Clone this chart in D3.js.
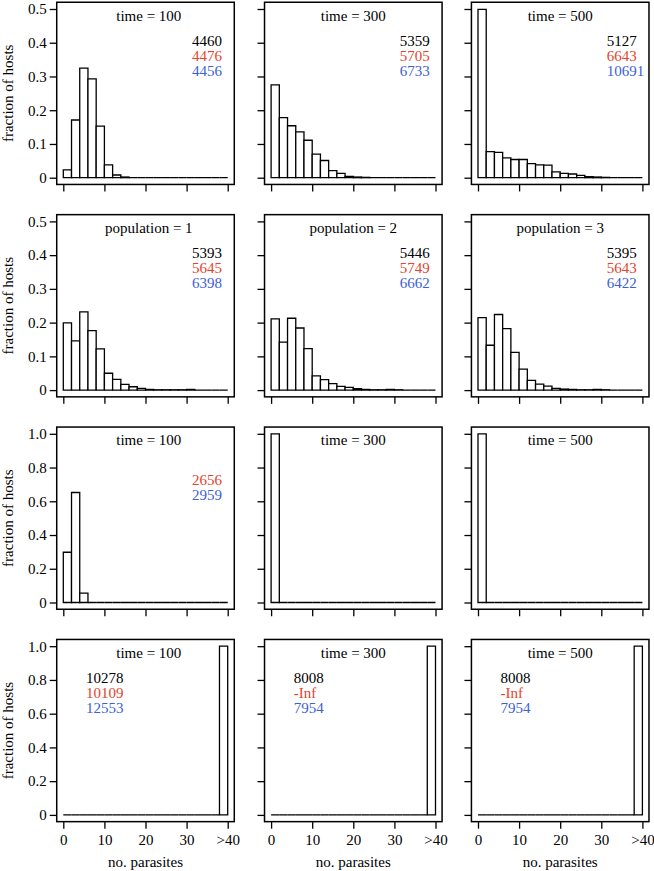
<!DOCTYPE html>
<html>
<head>
<meta charset="utf-8">
<script src="https://cdn.jsdelivr.net/npm/d3@7"></script>
<style>
  body { margin: 0; background: #fff; }
  svg text { font-family: "Liberation Serif", "Times New Roman", serif; font-size: 15px; }
</style>
</head>
<body>
<svg id="chart"></svg>
<script>
// Data: fraction of hosts per bin of 2 parasites (0-2, 2-4, ... 38-40/>40)
const binEdges = d3.range(0, 41, 2);
const xTicks = [0, 10, 20, 30, 40];
const xTickLabels = ['0', '10', '20', '30', '>40'];
const yTicksSmall = [0, 0.1, 0.2, 0.3, 0.4, 0.5];
const yTickLabelsSmall = ['0', '0.1', '0.2', '0.3', '0.4', '0.5'];
const yTicksLarge = [0, 0.2, 0.4, 0.6, 0.8, 1.0];
const yTickLabelsLarge = ['0', '0.2', '0.4', '0.6', '0.8', '1.0'];

const rowMax = [0.5, 0.5, 1.0, 1.0];

const titles = [
    ['time = 100', 'time = 300', 'time = 500'],
    ['population = 1', 'population = 2', 'population = 3'],
    ['time = 100', 'time = 300', 'time = 500'],
    ['time = 100', 'time = 300', 'time = 500']
];

const zeros = n => new Array(n).fill(0);

const fractions = [
    [
        [0.023, 0.171, 0.325, 0.293, 0.153, 0.038, 0.008, 0.002, 0, 0, 0, 0, 0, 0, 0, 0, 0, 0, 0, 0],
        [0.275, 0.178, 0.154, 0.136, 0.111, 0.070, 0.051, 0.021, 0.013, 0.004, 0.002, 0.001, 0, 0, 0, 0, 0, 0, 0, 0],
        [0.499, 0.077, 0.075, 0.059, 0.054, 0.054, 0.042, 0.038, 0.037, 0.017, 0.013, 0.011, 0.007, 0.003, 0.002, 0.001, 0, 0, 0, 0]
    ],
    [
        [0.199, 0.146, 0.232, 0.176, 0.122, 0.050, 0.032, 0.017, 0.010, 0.005, 0.002, 0.001, 0.001, 0.001, 0.001, 0.002, 0, 0, 0, 0],
        [0.211, 0.142, 0.213, 0.184, 0.123, 0.042, 0.031, 0.019, 0.011, 0.008, 0.004, 0.002, 0.001, 0.001, 0.002, 0.001, 0, 0, 0, 0],
        [0.215, 0.133, 0.224, 0.182, 0.112, 0.062, 0.029, 0.018, 0.012, 0.005, 0.003, 0.002, 0.001, 0.001, 0.002, 0.001, 0, 0, 0, 0]
    ],
    [
        [0.298, 0.652, 0.055, 0, 0, 0, 0, 0, 0, 0, 0, 0, 0, 0, 0, 0, 0, 0, 0, 0],
        [1.0].concat(zeros(19)),
        [1.0].concat(zeros(19))
    ],
    [
        zeros(19).concat([1.0]),
        zeros(19).concat([1.0]),
        zeros(19).concat([1.0])
    ]
];

// three numbers per panel: black, red, blue ('' = not shown)
const statsBlack = [
    ['4460', '5359', '5127'],
    ['5393', '5446', '5395'],
    ['', '', ''],
    ['10278', '8008', '8008']
];
const statsRed = [
    ['4476', '5705', '6643'],
    ['5645', '5749', '5643'],
    ['2656', '', ''],
    ['10109', '-Inf', '-Inf']
];
const statsBlue = [
    ['4456', '6733', '10691'],
    ['6398', '6662', '6422'],
    ['2959', '', ''],
    ['12553', '7954', '7954']
];
// x position (data units) where the numbers start
const statsX = [31.3, 31.3, 31.3, 5.5];

const statColors = ['#000000', '#e5432e', '#3c5fd8'];

// Layout
const width = 654;
const height = 871;
const colStart = [63.3, 271.1, 478];
const plotW = 164.4;
const rowTop0 = 9;
const rowStep = 212.4;
const plotH = 168.7;

const svg = d3.select('#chart')
    .attr('width', width)
    .attr('height', height);

rowMax.forEach((ymax, r) => {
    const top = rowTop0 + r * rowStep;
    const y = d3.scaleLinear().domain([0, ymax]).range([top + plotH, top]);
    const yTicks = ymax === 0.5 ? yTicksSmall : yTicksLarge;
    const yLabels = ymax === 0.5 ? yTickLabelsSmall : yTickLabelsLarge;

    colStart.forEach((cx, c) => {
        const x = d3.scaleLinear().domain([0, 40]).range([cx, cx + plotW]);
        const g = svg.append('g');

        const boxL = x(-1.6), boxR = x(41.6);
        const boxT = y(ymax * 1.04), boxB = y(-ymax * 0.04);

        // histogram bars (paths so zero-height bins still show as a line)
        g.selectAll('path.bar')
            .data(fractions[r][c])
            .enter()
            .append('path')
            .attr('class', 'bar')
            .attr('d', (d, i) => {
                const x0 = x(binEdges[i]), x1 = x(binEdges[i + 1]);
                return `M${x0},${y(0)}V${y(d)}H${x1}V${y(0)}Z`;
            })
            .attr('fill', '#fff')
            .attr('stroke', '#000')
            .attr('stroke-width', 1.3);

        // box
        g.append('rect')
            .attr('x', boxL)
            .attr('y', boxT)
            .attr('width', boxR - boxL)
            .attr('height', boxB - boxT)
            .attr('fill', 'none')
            .attr('stroke', '#000')
            .attr('stroke-width', 1.5);

        // y axis
        const yAxis = d3.axisLeft(y)
            .tickValues(yTicks)
            .tickSize(7)
            .tickPadding(3)
            .tickFormat((d, i) => c === 0 ? yLabels[i] : '');
        const ya = g.append('g')
            .attr('transform', `translate(${boxL},0)`)
            .call(yAxis);
        ya.select('.domain').remove();

        // x axis
        const xAxis = d3.axisBottom(x)
            .tickValues(xTicks)
            .tickSize(7)
            .tickPadding(6)
            .tickFormat((d, i) => r === 3 ? xTickLabels[i] : '');
        const xa = g.append('g')
            .attr('transform', `translate(0,${boxB})`)
            .call(xAxis);
        xa.select('.domain').remove();

        [ya, xa].forEach(a => {
            a.selectAll('line').attr('stroke', '#000').attr('stroke-width', 1.3);
            a.selectAll('text')
                .attr('fill', '#000')
                .style('font-family', '"Liberation Serif", "Times New Roman", serif')
                .style('font-size', '15px');
        });

        // title
        g.append('text')
            .attr('x', x(c === 0 ? 20.8 : 20))
            .attr('y', top + 11.5)
            .attr('text-anchor', 'middle')
            .attr('fill', '#000')
            .text(titles[r][c]);

        // numbers
        [statsBlack, statsRed, statsBlue].forEach((s, k) => {
            if (!s[r][c]) return;
            g.append('text')
                .attr('x', x(statsX[r]))
                .attr('y', top + 36.5 + k * 15)
                .attr('fill', statColors[k])
                .text(s[r][c]);
        });

        if (r === 3) {
            g.append('text')
                .attr('x', x(20))
                .attr('y', 867)
                .attr('text-anchor', 'middle')
                .attr('fill', '#000')
                .text('no. parasites');
        }
    });

    // y axis title
    svg.append('text')
        .attr('transform', `translate(13,${top + plotH / 2}) rotate(-90)`)
        .attr('text-anchor', 'middle')
        .attr('fill', '#000')
        .text('fraction of hosts');
});
</script>
</body>
</html>
